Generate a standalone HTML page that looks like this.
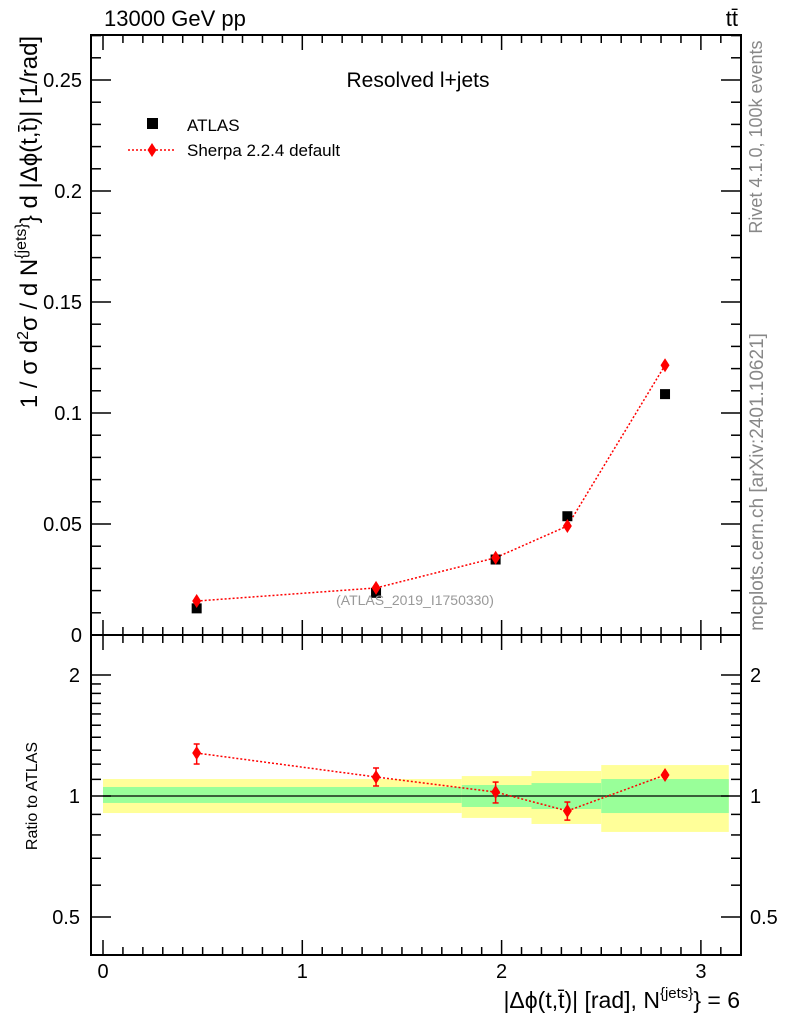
<!DOCTYPE html>
<html><head><meta charset="utf-8"><style>
body{margin:0;background:#fff;}
svg{display:block;font-family:"Liberation Sans",sans-serif;}
</style></head><body>
<svg id="c" width="786" height="1024" viewBox="0 0 786 1024"></svg>
<script>
const xCenters=[0.47,1.37,1.97,2.33,2.82];
const atlasVals=[0.012,0.019,0.034,0.0535,0.1085];
const sherpaVals=[0.0153,0.0212,0.0348,0.0491,0.1215];
const sherpaErr=[0.0010,0.0010,0.0010,0.0015,0.0020];
const ratioVals=[1.279,1.115,1.023,0.918,1.128];
const ratioHi=[1.347,1.174,1.083,0.966,1.14];
const ratioLo=[1.201,1.059,0.961,0.871,1.115];
const binEdges=[0,1.8,2.15,2.5,3.14];
const greenUp=[1.053,1.065,1.077,1.102];
const greenDn=[0.961,0.939,0.928,0.907];
const yellowUp=[1.102,1.121,1.154,1.194];
const yellowDn=[0.907,0.882,0.852,0.814];
const yTicks=[0,0.05,0.1,0.15,0.2,0.25];
const yTickLabels=["0","0.05","0.1","0.15","0.2","0.25"];
const xTicks=[0,1,2,3];
const rTicks=[0.5,1,2];
const rTickLabels=["0.5","1","2"];

const L=91,R=741,T=35,M=635,B=955;
const X=v=>103+v*199.3;
const Y=v=>635-v*2220;
const RY=r=>796-121*Math.log2(r);
const svg=document.getElementById('c');
const NS='http://www.w3.org/2000/svg';
function el(tag,attrs,parent){const e=document.createElementNS(NS,tag);for(const k in attrs)e.setAttribute(k,attrs[k]);(parent||svg).appendChild(e);return e;}
function txt(s,attrs){const e=el('text',attrs);e.textContent=s;return e;}

for(let i=0;i<4;i++){
 const b=el('rect',{x:X(binEdges[i]),y:RY(yellowUp[i]),width:X(binEdges[i+1])-X(binEdges[i]),height:RY(yellowDn[i])-RY(yellowUp[i]),fill:'#ffff99'});
 
 const g=el('rect',{x:X(binEdges[i]),y:RY(greenUp[i]),width:X(binEdges[i+1])-X(binEdges[i]),height:RY(greenDn[i])-RY(greenUp[i]),fill:'#99ff99'});
 
}
el('line',{x1:X(0),x2:X(3.14),y1:RY(1),y2:RY(1),stroke:'#000','stroke-width':1.3});

const f1=el('rect',{x:L,y:T,width:R-L,height:M-T,fill:'none',stroke:'#000','stroke-width':2});

const f2=el('rect',{x:L,y:M,width:R-L,height:B-M,fill:'none',stroke:'#000','stroke-width':2});


for(let i=0;i<=32;i++){const v=i/10;const maj=i%10==0;const len=maj?15:8;const x=X(v);if(x>R)break;
 for(const [top,bot] of [[T,M],[M,B]]){el('line',{x1:x,x2:x,y1:top,y2:top+len,stroke:'#000','stroke-width':1.5});el('line',{x1:x,x2:x,y1:bot,y2:bot-len,stroke:'#000','stroke-width':1.5});}}
xTicks.forEach(v=>{const t=txt(String(v),{x:X(v),y:978,'font-size':20,'text-anchor':'middle'});});
for(let i=0;i<=27;i++){const v=i/100;const y=Y(v);if(y<T)break;const len=i%5==0?20:10;
 el('line',{x1:L,x2:L+len,y1:y,y2:y,stroke:'#000','stroke-width':1.5});el('line',{x1:R,x2:R-len,y1:y,y2:y,stroke:'#000','stroke-width':1.5});}
yTicks.forEach((v,i)=>{const t=txt(yTickLabels[i],{x:82,y:Y(v)+7,'font-size':20,'text-anchor':'end'});});
const rMinor=[0.4,0.5,0.6,0.7,0.8,0.9,1,1.1,1.2,1.3,1.4,1.5,1.6,1.7,1.8,1.9,2];
rMinor.forEach(r=>{const y=RY(r);if(y>B||y<M)return;const len=(r==0.5||r==1||r==2)?20:10;
 el('line',{x1:L,x2:L+len,y1:y,y2:y,stroke:'#000','stroke-width':1.5});el('line',{x1:R,x2:R-len,y1:y,y2:y,stroke:'#000','stroke-width':1.5});});
rTicks.forEach((r,i)=>{const a=txt(rTickLabels[i],{x:80,y:RY(r)+7,'font-size':20,'text-anchor':'end'});
 const b=txt(rTickLabels[i],{x:750,y:RY(r)+7,'font-size':20});});

el('polyline',{points:xCenters.map((x,i)=>X(x)+','+Y(sherpaVals[i])).join(' '),fill:'none',stroke:'red','stroke-width':1.5,'stroke-dasharray':'2,2'});
xCenters.forEach((x,i)=>{const r=el('rect',{x:X(x)-5,y:Y(atlasVals[i])-5,width:10,height:10,fill:'#000'});
 });
function diamond(cx,cy,name){const d=el('polygon',{points:`${cx},${cy-7} ${cx+4.5},${cy} ${cx},${cy+7} ${cx-4.5},${cy}`,fill:'red'});}
xCenters.forEach((x,i)=>{const cx=X(x);
 el('line',{x1:cx,x2:cx,y1:Y(sherpaVals[i]+sherpaErr[i]),y2:Y(sherpaVals[i]-sherpaErr[i]),stroke:'red','stroke-width':1.5});
 diamond(cx,Y(sherpaVals[i]),'sherpa-point');});
el('polyline',{points:xCenters.map((x,i)=>X(x)+','+RY(ratioVals[i])).join(' '),fill:'none',stroke:'red','stroke-width':1.5,'stroke-dasharray':'2,2'});
xCenters.forEach((x,i)=>{const cx=X(x);
 el('line',{x1:cx,x2:cx,y1:RY(ratioHi[i]),y2:RY(ratioLo[i]),stroke:'red','stroke-width':1.5});
 el('line',{x1:cx-3,x2:cx+3,y1:RY(ratioHi[i]),y2:RY(ratioHi[i]),stroke:'red','stroke-width':1.5});
 el('line',{x1:cx-3,x2:cx+3,y1:RY(ratioLo[i]),y2:RY(ratioLo[i]),stroke:'red','stroke-width':1.5});
 diamond(cx,RY(ratioVals[i]),'ratio-point');});

function T2(s,a,name){const t=txt(s,a);return t;}
T2('13000 GeV pp',{x:104,y:26,'font-size':22},'energy-label');
T2('tt̄',{x:738,y:26,'font-size':22,'text-anchor':'end'},'process-label');
T2('Resolved l+jets',{x:418,y:87,'font-size':21,'text-anchor':'middle'},'plot-title');
const lg1=el('rect',{x:147,y:118,width:11,height:11,fill:'#000'});
T2('ATLAS',{x:187,y:131,'font-size':17},'legend-atlas');
el('line',{x1:128,x2:176,y1:150,y2:150,stroke:'red','stroke-width':1.5,'stroke-dasharray':'2,2'});
diamond(152,150,'legend-sherpa-marker');
T2('Sherpa 2.2.4 default',{x:187,y:156,'font-size':17},'legend-sherpa');
T2('(ATLAS_2019_I1750330)',{x:415,y:605,'font-size':14,fill:'#999','text-anchor':'middle'},'analysis-id');
T2('Rivet 4.1.0,  100k events',{x:0,y:0,'font-size':18,fill:'#888','text-anchor':'middle',transform:'translate(762,137) rotate(-90)'},'rivet-label');
T2('mcplots.cern.ch [arXiv:2401.10621]',{x:0,y:0,'font-size':19,fill:'#888','text-anchor':'middle',transform:'translate(763,482) rotate(-90)'},'mcplots-label');
const yl=T2('',{x:0,y:0,'font-size':24,'text-anchor':'middle',transform:'translate(37,222) rotate(-90)'},'y-axis-title');
yl.innerHTML='1 / σ d<tspan dy="-9" font-size="16">2</tspan><tspan dy="9">σ / d N</tspan><tspan dy="-11" font-size="16">{jets}</tspan><tspan dy="11">} d |Δϕ(t,t̄)| [1/rad]</tspan>';
T2('Ratio to ATLAS',{x:0,y:0,'font-size':16,'text-anchor':'middle',transform:'translate(37,796) rotate(-90)'},'ratio-axis-title');
const xl=T2('',{x:740,y:1008,'font-size':23,'text-anchor':'end'},'x-axis-title');
xl.innerHTML='|Δϕ(t,t̄)| [rad], N<tspan dy="-10" font-size="15">{jets}</tspan><tspan dy="10">} = 6</tspan>';
</script>
</body></html>
